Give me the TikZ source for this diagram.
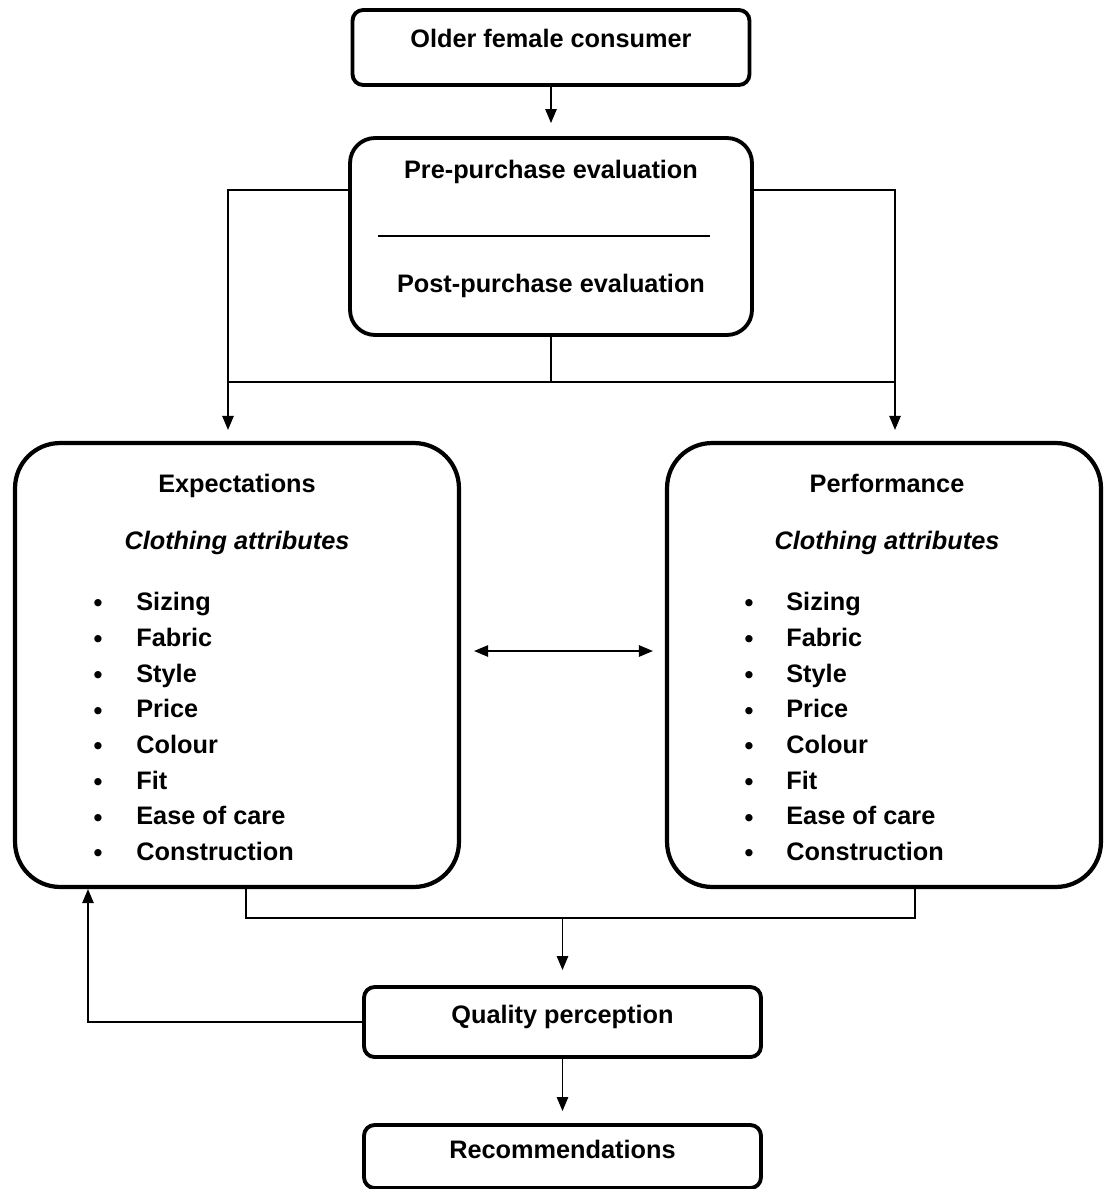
\documentclass[tikz,border=0pt]{standalone}
\usepackage{fontspec}
\setmainfont{Liberation Sans}
\usetikzlibrary{arrows.meta}

\tikzset{
  box/.style={draw, line width=2.2pt, rounded corners=6pt, minimum width=7.94cm, text depth=0.3cm},
  evalbox/.style={draw, line width=2.2pt, rounded corners=0.5cm, minimum width=8.04cm, minimum height=3.94cm},
  bigbox/.style={draw, line width=2.4pt, rounded corners=0.9cm, minimum height=8.88cm},
  link/.style={line width=0.85pt},
  arr/.style={link, -{Triangle[length=8pt,width=6.5pt]}},
  dbl/.style={link, {Triangle[length=8pt,width=6.5pt]}-{Triangle[length=8pt,width=6.5pt]}},
  title/.style={anchor=mid},
  attr/.style={anchor=mid west, inner sep=0pt}
}

\begin{document}
\begin{tikzpicture}[x=0.02cm, y=-0.02cm, font=\fontsize{14.4}{17}\selectfont\bfseries]
\useasboundingbox (0,0) rectangle (1104,1189);

\node[box, minimum height=1.5cm, text depth=0.38cm] (consumer) at (551,47.5) {Older female consumer};
\node[evalbox] (eval) at (551,236.5) {};
\node[title] (pre) at (551,174) {Pre-purchase evaluation};
\node[title] (post) at (551,288) {Post-purchase evaluation};
\draw[link] (378,236) -- (710,236);

\node[bigbox, minimum width=8.88cm] (exp) at (237,665) {};
\node[title] (exptitle) at (237,488) {Expectations};
\node[title] (expsub) at (237,545) {\itshape Clothing attributes};
\node[bigbox, minimum width=8.68cm] (perf) at (884,665) {};
\node[title] (perftitle) at (887,488) {Performance};
\node[title] (perfsub) at (887,545) {\itshape Clothing attributes};
\foreach \a [count=\i] in {Sizing, Fabric, Style, Price, Colour, Fit, Ease of care, Construction} {
  \node (expdot\i) at (98,{570.3+35.7*\i}) {\textbullet};
  \node[attr] (expattr\i) at (136,{570.3+35.7*\i}) {\a};
  \node (perfdot\i) at (749,{570.3+35.7*\i}) {\textbullet};
  \node[attr] (perfattr\i) at (786,{570.3+35.7*\i}) {\a};
}

\node[box, minimum height=1.4cm] (quality) at (562.5,1022) {Quality perception};
\node[box, minimum height=1.26cm] (recs) at (562.5,1156.5) {Recommendations};

\coordinate (lturn) at (228,190);
\coordinate (rturn) at (895,190);
\coordinate (lleg) at (246,918);
\coordinate (rleg) at (915,918);
\coordinate (back) at (88,1022);

\draw[arr, shorten >=0.26cm] (consumer.south) -- (consumer.south |- eval.north);
\draw[arr, shorten >=0.22cm] (eval.west |- lturn) -| (lturn |- exp.north);
\draw[arr, shorten >=0.22cm] (eval.east |- rturn) -| (rturn |- perf.north);
\draw[link] (eval.south) -- ++(0,45) coordinate (join);
\draw[link] (lturn |- join) -- (rturn |- join);
\draw[dbl] ([xshift=0.26cm, yshift=0.28cm]exp.east) -- ([xshift=-0.24cm, yshift=0.28cm]perf.west);
\draw[link] (lleg |- exp.south) -- (lleg) -- (rleg) -- (rleg |- perf.south);
\draw[arr, shorten >=0.3cm] (quality.north |- lleg) -- (quality.north);
\draw[arr] (quality.west) -| (back |- exp.south);
\draw[arr, shorten >=0.24cm] (quality.south) -- (recs.north);
\end{tikzpicture}
\end{document}
